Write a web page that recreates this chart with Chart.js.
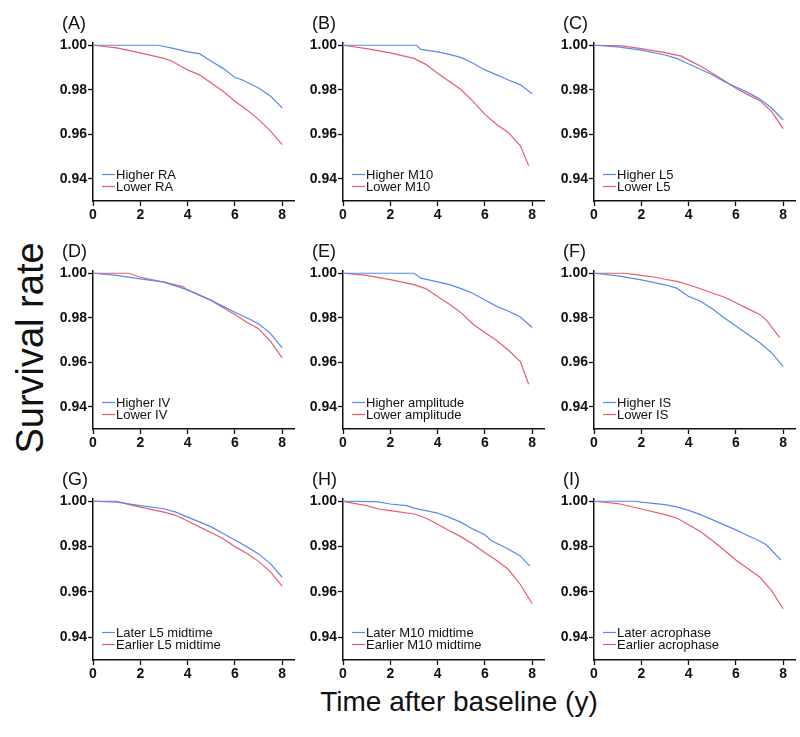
<!DOCTYPE html>
<html><head><meta charset="utf-8">
<script src="https://cdn.jsdelivr.net/npm/chart.js@4.4.0/dist/chart.umd.min.js"></script>
<style>
html,body{margin:0;padding:0;background:#fff;width:800px;height:737px;overflow:hidden;}
#wrap{position:relative;width:800px;height:737px;font-family:"Liberation Sans",Arial,Helvetica,sans-serif;color:#111;}
#wrap canvas{position:absolute;}
.plab{position:absolute;font-size:18px;line-height:18px;white-space:nowrap;}
#xt{position:absolute;left:459px;top:686px;transform:translateX(-50%);font-size:28px;white-space:nowrap;}
#yt{position:absolute;left:30px;top:348px;transform:translate(-50%,-50%) rotate(-90deg);font-size:38px;white-space:nowrap;}
</style></head>
<body><div id="wrap">
<div id="yt">Survival rate</div>
<div id="xt">Time after baseline (y)</div>
</div>
<script>
// ---------- data ----------
const panelLabels = ['(A)','(B)','(C)','(D)','(E)','(F)','(G)','(H)','(I)'];
const higherNames = ['Higher RA','Higher M10','Higher L5','Higher IV','Higher amplitude','Higher IS','Later L5 midtime','Later M10 midtime','Later acrophase'];
const lowerNames  = ['Lower RA','Lower M10','Lower L5','Lower IV','Lower amplitude','Lower IS','Earlier L5 midtime','Earlier M10 midtime','Earlier acrophase'];
const xTickValues = [0,2,4,6,8];
const yTickValues = [0.94,0.96,0.98,1.00];

// (A) RA
const tA_hi = [0,2.75,3.3,4,4.5,5,5.5,6,6.3,7,7.5,7.9,8];
const sA_hi = [1.0,1.0,0.9988,0.9970,0.9962,0.9928,0.9896,0.9855,0.9845,0.9808,0.9772,0.9730,0.9718];
const tA_lo = [0,1,2,3,3.3,4,4.5,5,5.5,6,6.5,7,7.5,8];
const sA_lo = [1.0,0.9988,0.9966,0.9941,0.9930,0.9889,0.9867,0.9830,0.9793,0.9748,0.9710,0.9667,0.9615,0.9553];
// (B) M10
const tB_hi = [0,3.1,3.3,4,4.5,5,5.5,6,6.5,7,7.5,8];
const sB_hi = [1.0,1.0,0.9981,0.9970,0.9959,0.9944,0.9919,0.9889,0.9867,0.9844,0.9822,0.9782];
const tB_lo = [0,1,2,3,3.5,4,4.5,5,5.5,6,6.5,7,7.5,7.85];
const sB_lo = [1.0,0.9985,0.9966,0.9941,0.9914,0.9874,0.9837,0.9800,0.9748,0.9689,0.9644,0.9607,0.9548,0.9459];
// (C) L5
const tC_hi = [0,1,2,3,3.5,4,4.5,5,5.5,6,6.5,7,7.5,8];
const sC_hi = [1.0,0.9993,0.9978,0.9956,0.9941,0.9916,0.9892,0.9867,0.9837,0.9812,0.9788,0.9759,0.9719,0.9664];
const tC_lo = [0,1.2,2,3,3.7,4,4.5,5,5.5,6,6.5,7,7.5,8];
const sC_lo = [1.0,0.9997,0.9985,0.9967,0.9951,0.9933,0.9907,0.9874,0.9841,0.9807,0.9778,0.9752,0.9704,0.9625];
// (D) IV
const tD_hi = [0,1,2,3,4,4.5,5,5.5,6,6.5,7,7.5,8];
const sD_hi = [1.0,0.9990,0.9975,0.9960,0.9925,0.9900,0.9878,0.9851,0.9825,0.9800,0.9773,0.9730,0.9665];
const tD_lo = [0,1.5,2,3,3.8,4,4.5,5,5.5,6,6.5,7,7.5,8];
const sD_lo = [1.0,1.0,0.9982,0.9960,0.9940,0.9925,0.9903,0.9878,0.9845,0.9815,0.9780,0.9751,0.9695,0.9620];
// (E) amplitude
const tE_hi = [0,3.0,3.3,4,4.5,5,5.5,6,6.5,7,7.5,8];
const sE_hi = [1.0,1.0,0.9978,0.9961,0.9949,0.9931,0.9909,0.9880,0.9851,0.9829,0.9803,0.9756];
const tE_lo = [0,1,2,3,3.5,4,4.5,5,5.5,6,6.5,7,7.5,7.85];
const sE_lo = [1.0,0.9990,0.9971,0.9949,0.9931,0.9895,0.9861,0.9822,0.9771,0.9734,0.9698,0.9654,0.9603,0.9501];
// (F) IS
const tF_hi = [0,1,2,3,3.5,4,4.5,5,5.5,6,6.5,7,7.5,8];
const sF_hi = [1.0,0.9988,0.9970,0.9948,0.9933,0.9896,0.9874,0.9840,0.9800,0.9763,0.9726,0.9689,0.9644,0.9581];
const tF_lo = [0,1.3,2,2.6,3,3.5,4,4.5,5,5.5,6,6.5,7,7.3,7.85];
const sF_lo = [1.0,1.0,0.9990,0.9982,0.9973,0.9963,0.9948,0.9930,0.9911,0.9893,0.9867,0.9841,0.9815,0.9788,0.9711];
// (G) L5 midtime
const tG_hi = [0,1,2,3,3.5,4,4.5,5,5.5,6,6.5,7,7.5,8];
const sG_hi = [1.0,0.9996,0.9981,0.9967,0.9952,0.9930,0.9909,0.9887,0.9858,0.9829,0.9800,0.9768,0.9725,0.9665];
const tG_lo = [0,1,1.5,2,3,3.5,4,4.5,5,5.5,6,6.5,7,7.5,8];
const sG_lo = [1.0,1.0,0.9986,0.9974,0.9952,0.9938,0.9913,0.9887,0.9861,0.9836,0.9800,0.9771,0.9735,0.9690,0.9626];
// (H) M10 midtime
const tH_hi = [0,1.4,2,2.7,3,4,4.5,5,5.5,6,6.3,6.5,7,7.5,7.9];
const sH_hi = [1.0,0.9998,0.9988,0.9981,0.9970,0.9948,0.9929,0.9907,0.9877,0.9852,0.9825,0.9815,0.9788,0.9759,0.9714];
const tH_lo = [0,1,1.5,2,3,3.5,4,4.5,5,5.5,6,6.5,7,7.5,8];
const sH_lo = [1.0,0.9981,0.9966,0.9959,0.9944,0.9926,0.9899,0.9870,0.9843,0.9810,0.9773,0.9739,0.9699,0.9633,0.9548];
// (I) acrophase
const tI_hi = [0,1.8,2,3,3.5,4,4.5,5,5.5,6,6.3,6.5,7,7.3,7.9];
const sI_hi = [1.0,1.0,0.9996,0.9985,0.9975,0.9960,0.9941,0.9919,0.9896,0.9874,0.9859,0.9849,0.9825,0.9807,0.9741];
const tI_lo = [0,1,2,3,3.5,4,4.5,5,5.5,6,6.5,7,7.5,8];
const sI_lo = [1.0,0.9990,0.9966,0.9941,0.9926,0.9896,0.9867,0.9827,0.9785,0.9741,0.9704,0.9667,0.9607,0.9526];

const higherT = [tA_hi,tB_hi,tC_hi,tD_hi,tE_hi,tF_hi,tG_hi,tH_hi,tI_hi];
const higherS = [sA_hi,sB_hi,sC_hi,sD_hi,sE_hi,sF_hi,sG_hi,sH_hi,sI_hi];
const lowerT  = [tA_lo,tB_lo,tC_lo,tD_lo,tE_lo,tF_lo,tG_lo,tH_lo,tI_lo];
const lowerS  = [sA_lo,sB_lo,sC_lo,sD_lo,sE_lo,sF_lo,sG_lo,sH_lo,sI_lo];

// ---------- layout ----------
const BLUE = 'rgb(88,138,238)';
const RED = 'rgb(232,92,110)';
const FONT = '"Liberation Sans", Arial, Helvetica, sans-serif';
const colAxisX = [93, 343, 594];
const rowTop = [43, 271, 499];
const rowH = [158, 158, 161];
const PAD_T = 15, YW = 60, PLOT_W = 201, PAD_R = 5, XH = 25;

const insideLegend = {
  id: 'insideLegend',
  afterDatasetsDraw(chart) {
    const {ctx, chartArea} = chart;
    const y = chart.scales.y;
    const y0 = y.getPixelForValue(0.94);
    const offs = [-5, 7];
    ctx.save();
    ctx.font = '13px ' + FONT;
    ctx.textBaseline = 'middle';
    ctx.textAlign = 'left';
    chart.data.datasets.forEach((ds, i) => {
      const yy = Math.round(y0 + offs[i]) + 0.5;
      ctx.strokeStyle = ds.borderColor;
      ctx.lineWidth = 1.2;
      ctx.beginPath();
      ctx.moveTo(chartArea.left + 9, yy);
      ctx.lineTo(chartArea.left + 22, yy);
      ctx.stroke();
      ctx.fillStyle = '#111';
      ctx.fillText(ds.label, chartArea.left + 23, yy + 0.5);
    });
    ctx.restore();
  }
};

const wrap = document.getElementById('wrap');
for (let p = 0; p < 9; p++) {
  const r = Math.floor(p / 3), c = p % 3;
  const W = YW + PLOT_W + PAD_R;
  const H = PAD_T + rowH[r] + XH;
  const cv = document.createElement('canvas');
  cv.width = W; cv.height = H;
  cv.style.left = (colAxisX[c] - YW) + 'px';
  cv.style.top = (rowTop[r] - PAD_T) + 'px';
  cv.style.width = W + 'px'; cv.style.height = H + 'px';
  wrap.appendChild(cv);

  const lab = document.createElement('div');
  lab.className = 'plab';
  lab.textContent = panelLabels[p];
  lab.style.left = (colAxisX[c] - 31) + 'px';
  lab.style.top = (rowTop[r] - 29) + 'px';
  wrap.appendChild(lab);

  new Chart(cv, {
    type: 'line',
    data: {
      datasets: [
        { label: higherNames[p], data: higherT[p].map((t, i) => ({x: t, y: higherS[p][i]})),
          borderColor: BLUE, borderWidth: 1.2, pointRadius: 0, tension: 0, fill: false },
        { label: lowerNames[p], data: lowerT[p].map((t, i) => ({x: t, y: lowerS[p][i]})),
          borderColor: RED, borderWidth: 1.2, pointRadius: 0, tension: 0, fill: false }
      ]
    },
    options: {
      responsive: false,
      animation: false,
      devicePixelRatio: 1,
      layout: { padding: { top: PAD_T, right: PAD_R, left: 0, bottom: 0 } },
      plugins: { legend: { display: false }, tooltip: { enabled: false }, title: { display: false } },
      scales: {
        x: {
          type: 'linear', min: 0, max: 8.5,
          afterBuildTicks: s => { s.ticks = xTickValues.map(v => ({value: v})); },
          afterFit: s => { s.height = XH; },
          ticks: { color: '#111', padding: 1, font: { family: FONT, size: 14, weight: 'bold' }, maxRotation: 0,
                   callback: v => String(v) },
          grid: { drawOnChartArea: false, drawTicks: true, tickLength: 5, tickColor: '#111', tickWidth: 1.3 },
          border: { display: true, color: '#111', width: 1.5 }
        },
        y: {
          type: 'linear', min: 0.93, max: 1.001,
          afterBuildTicks: s => { s.ticks = yTickValues.map(v => ({value: v})); },
          afterFit: s => { s.width = YW; },
          ticks: { color: '#111', padding: 1, font: { family: FONT, size: 14, weight: 'bold' },
                   callback: v => Number(v).toFixed(2) },
          grid: { drawOnChartArea: false, drawTicks: true, tickLength: 5, tickColor: '#111', tickWidth: 1.3 },
          border: { display: true, color: '#111', width: 1.5 }
        }
      }
    },
    plugins: [insideLegend]
  });
}
</script>
</body></html>
